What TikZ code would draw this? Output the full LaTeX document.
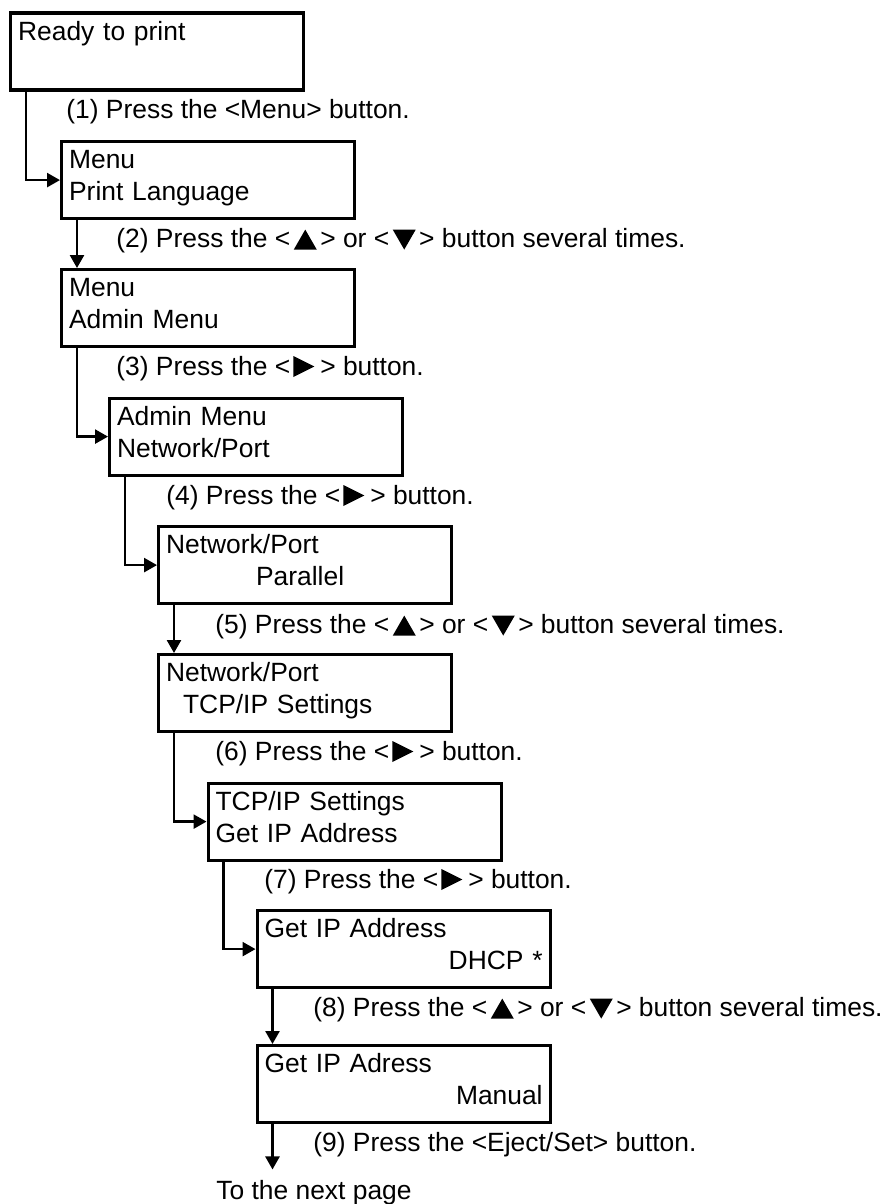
\documentclass[tikz,border=0pt]{standalone}
\usepackage{fontspec}
\setmainfont{Liberation Sans}
\usepackage{tikz}
\usetikzlibrary{arrows.meta}

\newcommand{\lcdfont}{\fontsize{13.2}{16}\selectfont}
\newcommand{\rowstrut}{\rule[-4.9pt]{0pt}{14.5pt}}
% key symbols drawn as small filled triangles
\newcommand{\keyup}{\hspace{1.75pt}\tikz[x=1pt,y=1pt,baseline=1.3pt]\fill (0,0) -- (11.5,0) -- (5.75,10) -- cycle;\hspace{1.75pt}}
\newcommand{\keydown}{\hspace{1.75pt}\tikz[x=1pt,y=1pt,baseline=1.3pt]\fill (0,10) -- (11.5,10) -- (5.75,0) -- cycle;\hspace{1.75pt}}
\newcommand{\keyright}{\hspace{1.5pt}\tikz[x=1pt,y=1pt,baseline=1pt]\fill (0,0) -- (10.5,5.25) -- (0,10.5) -- cycle;\hspace{3pt}}

\begin{document}
\begin{tikzpicture}[
    x=0.5pt,y=-0.5pt,
    p/.style={draw, line width=1.6pt, anchor=north west, align=left,
              text width=139pt, minimum height=38.5pt,
              inner xsep=3.75pt, inner ysep=4pt, font=\lcdfont},
    s/.style={anchor=base west, inner sep=0pt, font=\lcdfont},
    a/.style={-{Triangle[length=6.5pt,width=7pt]}, line width=1.25pt}
]
\useasboundingbox (0,0) rectangle (890,1204);

% Panel displays, one per step
\node[p] (ready) at (9,11.5) {Ready to print\rowstrut\\\rowstrut};
\node[p] (lang) at (60,140) {Menu\rowstrut\\Print Language\rowstrut};
\node[p] (admin) at (60,268) {Menu\rowstrut\\Admin Menu\rowstrut};
\node[p] (netport) at (108,396.5) {Admin Menu\rowstrut\\Network/Port\rowstrut};
\node[p] (parallel) at (157,525) {Network/Port\rowstrut\\\hspace*{45pt}Parallel\rowstrut};
\node[p] (tcpip) at (157,653) {Network/Port\rowstrut\\\hspace*{8.5pt}TCP/IP Settings\rowstrut};
\node[p] (getip) at (206.5,781.5) {TCP/IP Settings\rowstrut\\Get IP Address\rowstrut};
\node[p] (dhcp) at (255.5,909) {Get IP Address\rowstrut\\\hspace*{\fill}DHCP *\rowstrut};
\node[p] (manual) at (255.5,1044) {Get IP Adress\rowstrut\\\hspace*{\fill}Manual\rowstrut};

% Key presses
\node[s] (s1) at (66,119) {(1) Press the <Menu> button.};
\node[s] (s2) at (116,247) {(2) Press the <\keyup> or <\keydown> button several times.};
\node[s] (s3) at (116,375) {(3) Press the <\keyright> button.};
\node[s] (s4) at (166,504) {(4) Press the <\keyright> button.};
\node[s] (s5) at (215,633) {(5) Press the <\keyup> or <\keydown> button several times.};
\node[s] (s6) at (215,760) {(6) Press the <\keyright> button.};
\node[s] (s7) at (264,888) {(7) Press the <\keyright> button.};
\node[s] (s8) at (313,1016) {(8) Press the <\keyup> or <\keydown> button several times.};
\node[s] (s9) at (313,1151) {(9) Press the <Eject/Set> button.};
\node[s, inner ysep=5pt] (next) at (216,1199) {To the next page};

\draw[a] ([xshift=8.5pt]ready.south west) |- (lang.west);
\draw[a] ([xshift=8.5pt]lang.south west) -- ([xshift=8.5pt]admin.north west);
\draw[a] ([xshift=8.5pt]admin.south west) |- (netport.west);
\draw[a] ([xshift=8.5pt]netport.south west) |- (parallel.west);
\draw[a] ([xshift=8.5pt]parallel.south west) -- ([xshift=8.5pt]tcpip.north west);
\draw[a] ([xshift=8.5pt]tcpip.south west) |- (getip.west);
\draw[a] ([xshift=8.5pt]getip.south west) |- (dhcp.west);
\draw[a] ([xshift=8.5pt]dhcp.south west) -- ([xshift=8.5pt]manual.north west);
\draw[a] ([xshift=8.5pt]manual.south west) coordinate (d9) -- (d9 |- next.north);
\end{tikzpicture}
\end{document}
